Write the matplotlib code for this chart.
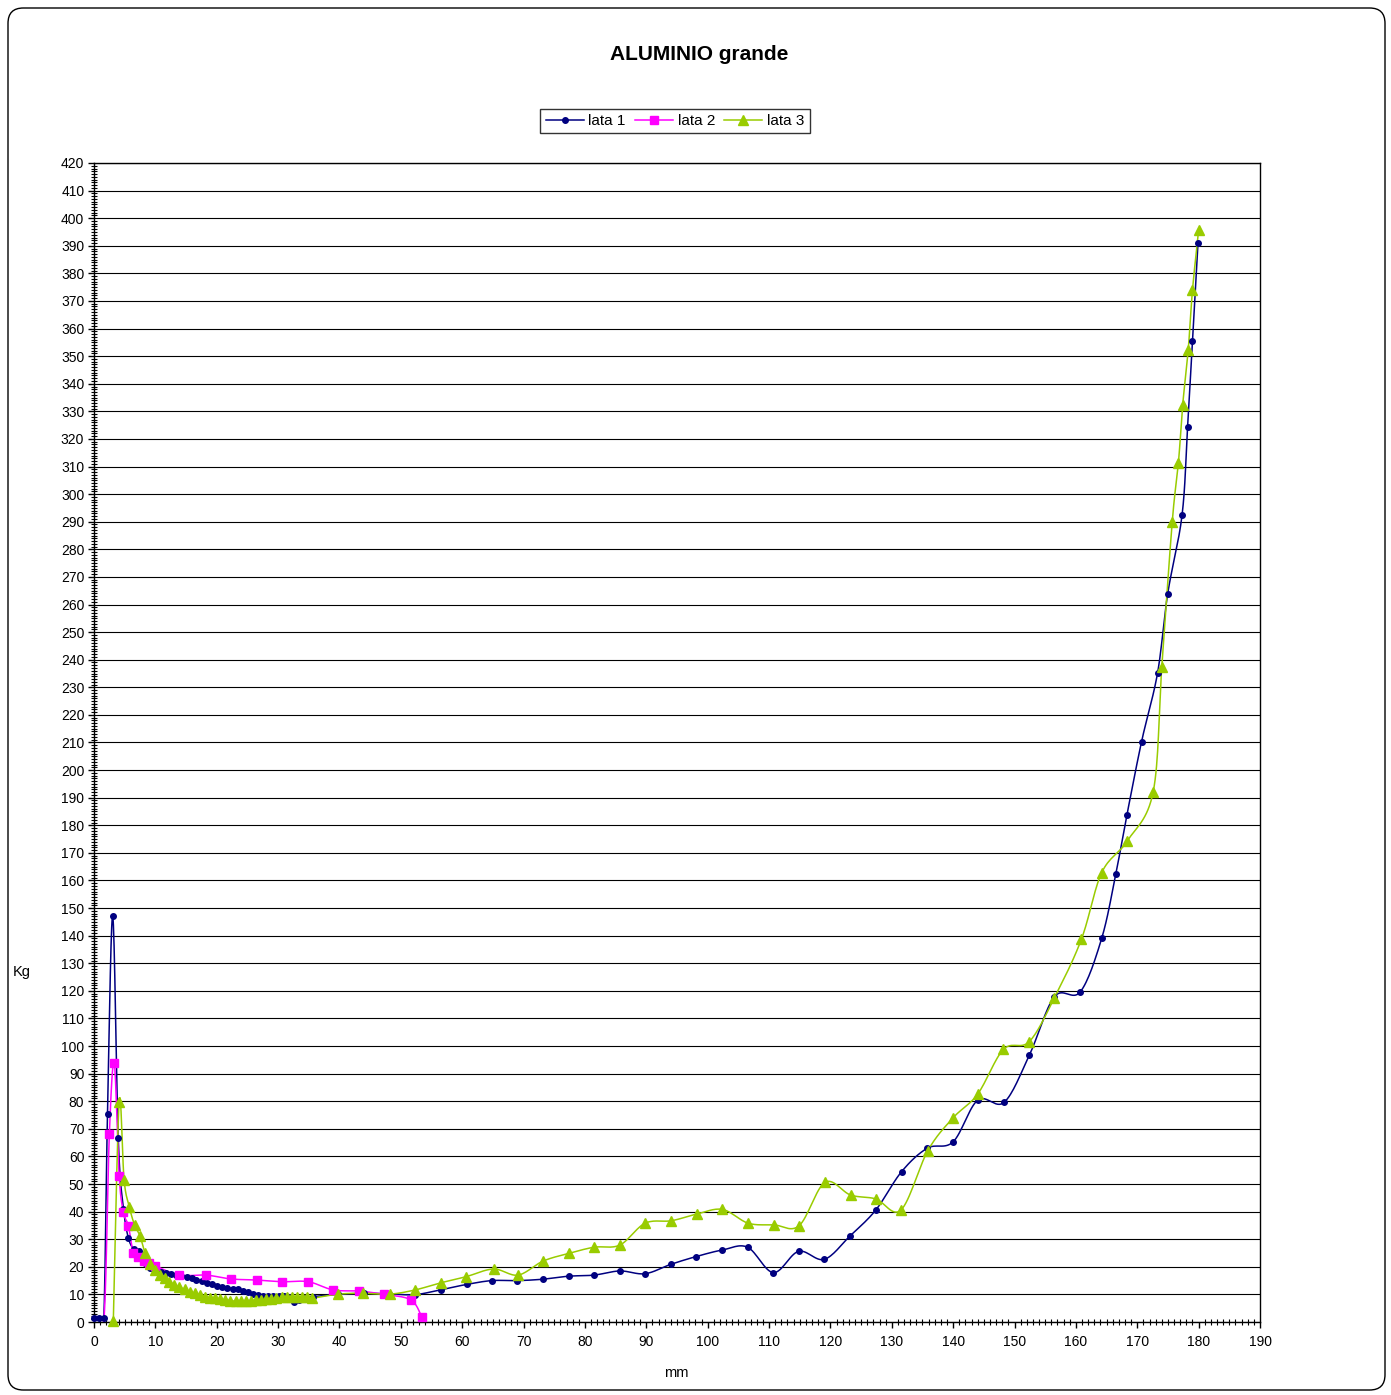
import numpy as np
import matplotlib
matplotlib.use("Agg")
import matplotlib.pyplot as plt
from matplotlib.lines import Line2D
from matplotlib.patches import FancyBboxPatch
from matplotlib.ticker import MultipleLocator

plt.rcParams['font.family'] = ['Liberation Sans', 'DejaVu Sans']

# ---- data: load (Kg) versus displacement (mm) ----
lata1_mm = [0.0, 0.8, 1.6, 2.2, 3.05, 3.95, 4.8, 5.6, 6.45, 7.4, 8.3, 9.1, 10.0, 10.9,
            11.7, 12.6, 13.4, 14.2, 15.1, 15.9, 16.7, 17.6, 18.4, 19.2, 20.1, 20.9,
            21.7, 22.6, 23.4, 24.2, 25.1, 25.9, 26.7, 27.6, 28.4, 29.2, 30.1, 30.9,
            31.7, 32.6, 33.4, 34.2, 35.7, 39.8, 44.0, 48.1, 52.3, 56.5, 60.7, 64.8,
            69.0, 73.1, 77.35, 81.5, 85.7, 89.8, 94.0, 98.1, 102.4, 106.5, 110.7,
            114.8, 119.0, 123.2, 127.4, 131.6, 135.8, 140.0, 144.0, 148.3, 152.4,
            156.5, 160.7, 164.2, 166.5, 168.3, 170.7, 173.3, 174.95, 177.3, 178.2,
            179.0, 179.9]
lata1_kg = [1.5, 1.5, 1.5, 75.5, 147.0, 66.5, 41.0, 30.5, 26.5, 25.8, 21.3, 19.4, 18.8,
            18.2, 17.7, 17.4, 17.0, 16.7, 16.3, 15.8, 15.3, 14.8, 14.3, 13.8, 13.2,
            12.8, 12.4, 12.1, 11.8, 11.3, 10.7, 10.1, 9.7, 9.5, 9.4, 9.4, 9.4, 9.3,
            9.1, 7.3, 7.9, 8.6, 9.2, 10.0, 10.4, 10.2, 9.9, 11.7, 13.6, 15.0, 15.0,
            15.5, 16.6, 17.0, 18.5, 17.5, 20.9, 23.7, 26.1, 27.1, 17.9, 25.6, 22.7,
            31.2, 40.6, 54.5, 63.0, 65.3, 80.4, 79.6, 96.6, 117.9, 119.6, 139.0,
            162.3, 183.6, 210.3, 235.1, 263.8, 292.4, 324.4, 355.5, 391.1]

lata2_mm = [0.0, 1.6, 2.5, 3.3, 4.1, 4.8, 5.6, 6.4, 7.2, 8.15, 9.0, 9.9, 13.9, 18.25,
            22.3, 26.5, 30.7, 34.9, 39.0, 43.2, 47.3, 51.65, 53.4]
lata2_kg = [0.0, 0.0, 68.1, 93.7, 53.0, 39.7, 34.9, 25.1, 23.7, 22.1, 21.2, 20.4, 17.0,
            17.0, 15.6, 15.2, 14.6, 14.6, 11.6, 11.2, 10.0, 8.0, 1.9]

lata3_mm = [3.15, 4.1, 4.9, 5.75, 6.6, 7.5, 8.3, 9.1, 9.9, 10.7, 11.5, 12.3, 13.1, 13.9,
            14.8, 15.6, 16.4, 17.2, 18.1, 18.9, 19.7, 20.6, 21.4, 22.2, 23.1, 23.9,
            24.7, 25.6, 26.4, 27.2, 28.1, 28.9, 29.7, 30.6, 31.4, 32.2, 33.1, 33.9,
            34.7, 35.5, 39.8, 43.9, 48.2, 52.3, 56.5, 60.6, 65.1, 69.1, 73.2, 77.45,
            81.5, 85.7, 89.8, 94.1, 98.2, 102.4, 106.6, 110.8, 114.9, 119.1, 123.3,
            127.4, 131.5, 135.85, 139.9, 144.0, 148.2, 152.4, 156.5, 160.9, 164.2,
            168.4, 172.6, 174.0, 175.7, 176.7, 177.4, 178.3, 179.0, 180.0]
lata3_kg = [0.5, 79.8, 51.5, 41.8, 35.2, 31.2, 24.9, 21.0, 18.8, 17.0, 15.8, 14.6, 13.4,
            12.6, 11.8, 11.0, 10.4, 9.8, 9.2, 8.8, 8.6, 8.2, 8.0, 7.7, 7.6, 7.6, 7.6,
            7.7, 7.8, 8.0, 8.2, 8.5, 8.7, 8.9, 9.0, 9.1, 9.1, 9.0, 8.9, 8.6, 10.1,
            10.4, 10.1, 11.6, 14.2, 16.4, 19.2, 17.0, 22.1, 24.9, 27.1, 27.9, 35.8,
            36.7, 39.1, 40.8, 35.8, 35.2, 34.9, 50.6, 46.0, 44.6, 40.6, 62.0, 73.8,
            82.6, 98.8, 101.6, 117.5, 138.7, 162.8, 174.4, 192.2, 237.5, 290.0,
            311.2, 332.3, 352.2, 374.0, 395.7]

series = [
    # name, x, y, colour, marker, size, first marked point
    ("lata 1", lata1_mm, lata1_kg, "#000080", "o", 4.0, 0),
    ("lata 2", lata2_mm, lata2_kg, "#FF00FF", "s", 5.2, 2),
    ("lata 3", lata3_mm, lata3_kg, "#99CC00", "^", 6.8, 0),
]


def smooth_curve(x, y, steps=16):
    """Smoothed polyline through the points (cubic Bezier, Catmull-Rom tangents)."""
    p = np.column_stack([x, y]).astype(float)
    n = len(p)
    out = [p[0]]
    t = np.linspace(0, 1, steps + 1)[1:][:, None]
    for i in range(n - 1):
        p0 = p[i - 1] if i > 0 else p[i]
        p1, p2 = p[i], p[i + 1]
        p3 = p[i + 2] if i + 2 < n else p[i + 1]
        c1 = p1 + (p2 - p0) / 6.0
        c2 = p2 - (p3 - p1) / 6.0
        seg = ((1 - t) ** 3) * p1 + 3 * ((1 - t) ** 2) * t * c1 \
            + 3 * (1 - t) * t ** 2 * c2 + t ** 3 * p2
        out.extend(seg)
    out = np.array(out)
    return out[:, 0], out[:, 1]


W, H = 1391, 1395
fig = plt.figure(figsize=(W / 100, H / 100), dpi=100)
fig.patch.set_facecolor("white")

# rounded outer frame
frame = FancyBboxPatch((8 / W, 1 - 1390 / H), (1385 - 8) / W, (1390 - 8) / H,
                       boxstyle="round,pad=0,rounding_size=0.011",
                       transform=fig.transFigure, facecolor="none",
                       edgecolor="black", linewidth=1.0)
fig.patches.append(frame)

ax = fig.add_axes([94 / W, 1 - 1322 / H, (1260 - 94) / W, (1322 - 163) / H])
ax.set_xlim(0, 190)
ax.set_ylim(0, 420)
ax.xaxis.set_major_locator(MultipleLocator(10))
ax.xaxis.set_minor_locator(MultipleLocator(1))
ax.yaxis.set_major_locator(MultipleLocator(10))
ax.yaxis.set_minor_locator(MultipleLocator(1))
ax.grid(axis="y", which="major", color="black", linewidth=0.8)
ax.set_axisbelow(True)
for s in ax.spines.values():
    s.set_color("black")
    s.set_linewidth(1.0)
ax.tick_params(axis="both", which="major", direction="out", length=4,
               width=1.0, labelsize=10, colors="black")
ax.tick_params(axis="x", which="major", pad=5)
ax.tick_params(axis="y", which="major", pad=3)
ax.tick_params(axis="both", which="minor", direction="inout", length=4, width=0.8)

handles = []
for name, xs, ys, color, marker, ms, first in series:
    sx, sy = smooth_curve(xs, ys)
    ax.plot(sx, sy, color=color, linewidth=1.1, zorder=3)
    ax.plot(xs[first:], ys[first:], linestyle="none", marker=marker, markersize=ms,
            markerfacecolor=color, markeredgecolor=color, zorder=4, clip_on=False)
    handles.append(Line2D([], [], color=color, linewidth=1.1, marker=marker,
                          markersize=ms, markerfacecolor=color, markeredgecolor=color))

fig.text(699 / W, 1 - 55 / H, "ALUMINIO grande", ha="center", va="center",
         fontsize=15, fontweight="bold")
fig.text(22 / W, 1 - 972 / H, "Kg", ha="center", va="center", fontsize=10.5)
fig.text(676 / W, 1 - 1373 / H, "mm", ha="center", va="center", fontsize=10.5)

leg = fig.legend(handles, [s[0] for s in series], loc="center",
                 bbox_to_anchor=(675 / W, 1 - 121 / H), ncol=3, fontsize=11,
                 frameon=True, fancybox=False, edgecolor="black",
                 handlelength=2.5, handletextpad=0.3, columnspacing=0.6,
                 borderpad=0.35, borderaxespad=0)
leg.get_frame().set_linewidth(1.0)

fig.savefig("out.png", dpi=100, facecolor="white")
